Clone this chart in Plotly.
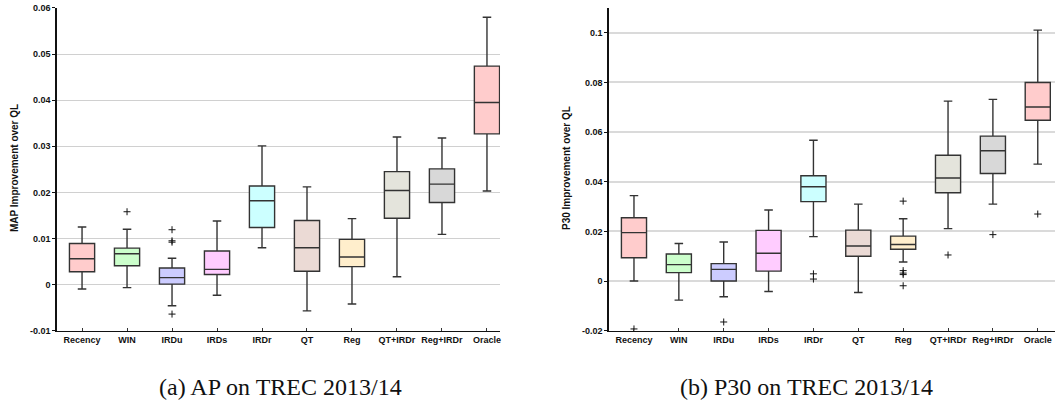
import plotly.graph_objects as go

categories = ["Recency", "WIN", "IRDu", "IRDs", "IRDr", "QT", "Reg", "QT+IRDr", "Reg+IRDr", "Oracle"]

# (a) AP on TREC 2013/14
ap_low = [-0.00095, -0.00065, -0.0046, -0.0023, 0.0080, -0.0057, -0.0042, 0.0017, 0.0109, 0.0203]
ap_q1 = [0.0028, 0.0041, 0.0001, 0.0022, 0.0124, 0.0029, 0.0039, 0.0144, 0.0178, 0.0327]
ap_median = [0.0056, 0.0067, 0.0015, 0.0033, 0.0182, 0.0080, 0.0060, 0.0204, 0.0218, 0.0395]
ap_q3 = [0.0089, 0.0079, 0.0036, 0.0073, 0.0214, 0.0139, 0.0098, 0.0245, 0.0251, 0.0474]
ap_high = [0.0125, 0.0120, 0.0057, 0.0138, 0.0301, 0.0212, 0.0143, 0.0320, 0.0318, 0.0580]
ap_outliers = [[], [0.0158], [0.0119, 0.0095, 0.0092, -0.0064], [], [], [], [], [], [], []]

# (b) P30 on TREC 2013/14
p30_low = [0.0, -0.0077, -0.0063, -0.0042, 0.0179, -0.0046, 0.0077, 0.0211, 0.0310, 0.0471]
p30_q1 = [0.0094, 0.0034, 0.0, 0.0040, 0.0320, 0.0100, 0.0128, 0.0356, 0.0433, 0.0648]
p30_median = [0.0195, 0.0066, 0.0047, 0.0112, 0.0380, 0.0141, 0.0147, 0.0415, 0.0525, 0.0701]
p30_q3 = [0.0255, 0.0109, 0.0070, 0.0204, 0.0424, 0.0205, 0.0181, 0.0507, 0.0584, 0.0800]
p30_high = [0.0344, 0.0151, 0.0157, 0.0286, 0.0567, 0.0310, 0.0251, 0.0725, 0.0732, 0.1011]
p30_outliers = [[-0.0193], [], [-0.0165], [], [0.0029, 0.0008], [],
                [0.0322, 0.0042, 0.0032, 0.0026, -0.0019], [0.0105], [0.0187], [0.0270]]

ap_ticks = [-0.01, 0, 0.01, 0.02, 0.03, 0.04, 0.05, 0.06]
ap_ticktext = ["-0.01", "0", "0.01", "0.02", "0.03", "0.04", "0.05", "0.06"]
p30_ticks = [-0.02, 0, 0.02, 0.04, 0.06, 0.08, 0.1]
p30_ticktext = ["-0.02", "0", "0.02", "0.04", "0.06", "0.08", "0.1"]

fills = ["#FFCCCC", "#CCFFCC", "#CCCCFF", "#FFCCFF", "#CCFFFF",
         "#EBDAD5", "#FFEECC", "#E4E4DC", "#D8D8D8", "#FFCCCC"]

FONT = "Liberation Sans"
fig = go.Figure()


def add_panel(low, q1, med, q3, high, outliers, xa, ya):
    for i, cat in enumerate(categories):
        fig.add_trace(go.Box(
            x=[cat], q1=[q1[i]], median=[med[i]], q3=[q3[i]],
            lowerfence=[low[i]], upperfence=[high[i]],
            fillcolor=fills[i], line=dict(color="#333333", width=1.4),
            width=0.56, whiskerwidth=0.34, boxpoints=False,
            xaxis=xa, yaxis=ya, showlegend=False, hoverinfo="skip"))
        if outliers[i]:
            fig.add_trace(go.Scatter(
                x=[cat] * len(outliers[i]), y=outliers[i], mode="markers",
                marker=dict(symbol="cross-thin", size=5, line=dict(color="#111111", width=1)),
                xaxis=xa, yaxis=ya, showlegend=False, hoverinfo="skip"))


add_panel(ap_low, ap_q1, ap_median, ap_q3, ap_high, ap_outliers, "x", "y")
add_panel(p30_low, p30_q1, p30_median, p30_q3, p30_high, p30_outliers, "x2", "y2")

xcommon = dict(type="category", categoryorder="array", categoryarray=categories,
               showline=True, linecolor="#111111", linewidth=1.2, automargin=False,
               ticks="inside", ticklen=3, tickcolor="#333333", showgrid=False,
               zeroline=False, tickfont=dict(family=FONT, size=9, color="#111111", weight=700))
ycommon = dict(showline=True, linecolor="#111111", linewidth=1.5, automargin=False,
               ticks="outside", ticklen=3, tickcolor="#111111",
               showgrid=True, zeroline=False,
               tickfont=dict(family=FONT, size=9, color="#111111", weight=700))

fig.update_layout(
    template="none",
    width=1058, height=408, margin=dict(l=0, r=0, t=0, b=0, pad=0),
    paper_bgcolor="white", plot_bgcolor="white",
    xaxis=dict(domain=[0.0539, 0.4726], range=[-0.556, 9.29], anchor="y", **xcommon),
    yaxis=dict(domain=[0.1895, 0.9804], range=[-0.01, 0.06], tickvals=ap_ticks,
               ticktext=ap_ticktext, anchor="x", gridwidth=1, gridcolor="#D0D0D0", **ycommon),
    xaxis2=dict(domain=[0.5756, 0.9972], range=[-0.557, 9.385], anchor="y2", **xcommon),
    yaxis2=dict(domain=[0.1895, 0.9804], range=[-0.02, 0.11], tickvals=p30_ticks,
                ticktext=p30_ticktext, anchor="x2", gridwidth=2, gridcolor="#DADADA", **ycommon),
    annotations=[
        dict(text="MAP Improvement over QL", x=14 / 1058, y=1 - 168 / 408, xref="paper", yref="paper",
             xanchor="center", yanchor="middle",
             textangle=-90, showarrow=False, font=dict(family=FONT, size=10, color="#111111", weight=700)),
        dict(text="P30 Improvement over QL", x=566 / 1058, y=1 - 168 / 408, xref="paper", yref="paper",
             xanchor="center", yanchor="middle",
             textangle=-90, showarrow=False, font=dict(family=FONT, size=10, color="#111111", weight=700)),
        dict(text="(a) AP on TREC 2013/14", x=280 / 1058, y=1 - 387 / 408, xref="paper", yref="paper",
             xanchor="center", yanchor="middle",
             showarrow=False, font=dict(family="Liberation Serif", size=24, color="#111111")),
        dict(text="(b) P30 on TREC 2013/14", x=806 / 1058, y=1 - 387 / 408, xref="paper", yref="paper",
             xanchor="center", yanchor="middle",
             showarrow=False, font=dict(family="Liberation Serif", size=24, color="#111111")),
    ],
)

fig.write_html("out.html")
